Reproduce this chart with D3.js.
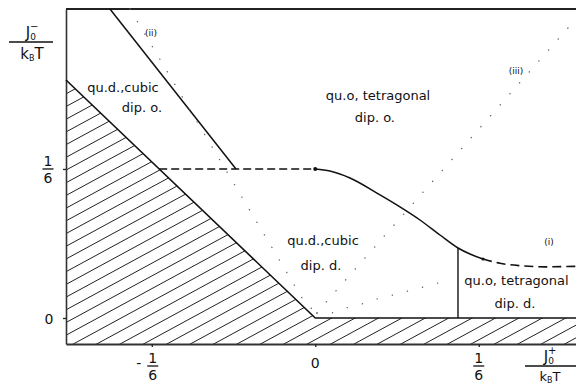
<!DOCTYPE html>
<html>
<head>
<meta charset="utf-8">
<script src="https://cdn.jsdelivr.net/npm/d3@7/dist/d3.min.js"></script>
<style>
  html, body { margin: 0; padding: 0; background: #fff; }
  svg { display: block; }
  text { font-family: "DejaVu Sans", sans-serif; fill: #111; }
</style>
</head>
<body>
<svg id="chart" width="576" height="387"></svg>
<script>
// Phase diagram in the (J0+/kBT, J0-/kBT) plane.

const xTicks = [-1/6, 0, 1/6];
const yTicks = [0, 1/6];

// Lower-left limit of the physical region (hatched below it)
const hatchEdge = [[-0.2541, 0.2662], [0, 0], [0.2658, 0]];

// Phase boundaries
const lineII = [[-0.2093, 0.3456], [-0.0808, 1 / 6]];
const firstOrderLine = [[-0.1591, 1 / 6], [0, 1 / 6]];
const transitionCurve = [
  [0, 1 / 6], [0.0150, 0.1644], [0.0354, 0.1566], [0.0660, 0.1376],
  [0.0863, 0.1242], [0.1067, 0.1096], [0.1271, 0.0928], [0.1455, 0.0783],
  [0.1577, 0.0716], [0.1710, 0.0660]
];
const dashedI = [[0.1710, 0.0660], [0.1883, 0.0612], [0.2087, 0.0585], [0.2342, 0.0572], [0.2658, 0.0578]];
const verticalBoundary = [[0.1455, 0], [0.1455, 0.0783]];

// Stability limits (dotted)
const dottedII = [[-0.1889, 0.3456], [-0.0105, 0.0168], [0.0017, 0.0056]];
const dottedIII = [[0.0017, 0.0056], [0.0120, 0.0190], [0.2658, 0.3345]];
const dottedI = [
  [0.0017, 0.0056], [0.0150, 0.0056], [0.0313, 0.0112], [0.0476, 0.0157],
  [0.0629, 0.0213], [0.0792, 0.0257], [0.0986, 0.0313], [0.1292, 0.0403]
];

// Region and curve labels
const regionLabels = [
  { t: "qu.d.,cubic", x: -0.1960, y: 0.2528 },
  { t: "dip. o.", x: -0.1767, y: 0.2304 },
  { t: "qu.o, tetragonal", x: 0.0640, y: 0.2438 },
  { t: "dip. o.", x: 0.0608, y: 0.2192 },
  { t: "qu.d.,cubic", x: 0.0079, y: 0.0817 },
  { t: "dip. d.", x: 0.0058, y: 0.0537 },
  { t: "qu.o, tetragonal", x: 0.2051, y: 0.0369 },
  { t: "dip. d.", x: 0.2036, y: 0.0112 }
];
const curveLabels = [
  { t: "(ii)", x: -0.1675, y: 0.3154 },
  { t: "(iii)", x: 0.2046, y: 0.2729 },
  { t: "(i)", x: 0.2382, y: 0.0817 }
];

const svg = d3.select("#chart");
const x = d3.scaleLinear().domain([-0.2541, 0.2658]).range([66, 576]);
const y = d3.scaleLinear().domain([-0.0291, 0.3456]).range([344, 9]);
const line = d3.line().x(d => x(d[0])).y(d => y(d[1]));

// Hatched region
const hatchPoly = hatchEdge.concat([[0.2658, -0.0291], [-0.2541, -0.0291]]);
svg.append("clipPath").attr("id", "hatchClip")
  .append("path").attr("d", line(hatchPoly) + "Z");
const slope = 0.543, step = 23.4;
const x0s = d3.range(-40, 30).map(k => 210 + k * step);
svg.append("g").attr("clip-path", "url(#hatchClip)")
  .selectAll("line").data(x0s).join("line")
  .attr("x1", d => d).attr("y1", y.range()[0] + 2)
  .attr("x2", d => d + 700).attr("y2", y.range()[0] + 2 - 700 * slope)
  .attr("stroke", "#222").attr("stroke-width", 1);

// Frame: top border
svg.append("line")
  .attr("x1", x.range()[0]).attr("x2", x.range()[1])
  .attr("y1", y.range()[1]).attr("y2", y.range()[1])
  .attr("stroke", "#222").attr("stroke-width", 2);

// Axes
const yAxis = svg.append("g").attr("transform", `translate(${x.range()[0]},0)`)
  .call(d3.axisLeft(y).tickValues(yTicks).tickSize(3).tickSizeOuter(0).tickFormat(""));
const xAxis = svg.append("g").attr("transform", `translate(0,${y.range()[0]})`)
  .call(d3.axisBottom(x).tickValues(xTicks).tickSize(3).tickSizeOuter(0).tickFormat(""));
yAxis.select(".domain").attr("stroke", "#333").attr("stroke-width", 1.6);
xAxis.select(".domain").attr("stroke", "#333").attr("stroke-width", 2);
svg.selectAll(".tick line").attr("stroke", "#222").attr("stroke-width", 1.3);

// Boundary lines
function drawLine(data, opts) {
  return svg.append("path").datum(data)
    .attr("d", opts.curve ? line.curve(opts.curve)(data) : line.curve(d3.curveLinear)(data))
    .attr("fill", "none")
    .attr("stroke", opts.color || "#111")
    .attr("stroke-width", opts.width || 1.5)
    .attr("stroke-dasharray", opts.dash || null)
    .attr("stroke-linecap", opts.cap || "butt");
}
drawLine(hatchEdge, { width: 1.6 });
drawLine(lineII, { width: 1.5 });
drawLine(firstOrderLine, { width: 1.6, dash: "8,4" });
drawLine(transitionCurve, { width: 1.5, curve: d3.curveMonotoneX });
drawLine(dashedI, { width: 1.6, dash: "9,5", curve: d3.curveMonotoneX });
drawLine(verticalBoundary, { width: 1.4 });

// Dotted stability limits
[dottedII, dottedIII].forEach(d => drawLine(d, { width: 1.4, color: "#666", dash: "0.1,14.5", cap: "round" }));
drawLine(dottedI, { width: 1.4, color: "#666", dash: "0.1,15.5", cap: "round", curve: d3.curveMonotoneX });

// Markers on the transition line
svg.append("circle").attr("cx", x(0)).attr("cy", y(1 / 6)).attr("r", 2).attr("fill", "#111");
svg.append("circle").attr("cx", x(dashedI[0][0])).attr("cy", y(dashedI[0][1])).attr("r", 1.5).attr("fill", "#111");

// Region labels
svg.append("g").selectAll("text").data(regionLabels).join("text")
  .attr("x", d => x(d.x)).attr("y", d => y(d.y))
  .attr("text-anchor", "middle").attr("font-size", 13)
  .text(d => d.t);
svg.append("g").selectAll("text").data(curveLabels).join("text")
  .attr("x", d => x(d.x)).attr("y", d => y(d.y))
  .attr("text-anchor", "middle").attr("font-size", 9).attr("fill", "#333")
  .text(d => d.t);

// Fraction tick labels
function fraction(g, cx, top, num, den, barW) {
  g.append("text").attr("x", cx).attr("y", top).attr("text-anchor", "middle")
    .attr("font-size", 14).text(num);
  g.append("line").attr("x1", cx - barW / 2).attr("x2", cx + barW / 2)
    .attr("y1", top + 3).attr("y2", top + 3).attr("stroke", "#111").attr("stroke-width", 1.3);
  g.append("text").attr("x", cx).attr("y", top + 17).attr("text-anchor", "middle")
    .attr("font-size", 14).text(den);
}
const labelG = svg.append("g");
yTicks.forEach(v => {
  const py = y(v);
  if (v === 0) {
    labelG.append("text").attr("x", 49).attr("y", py + 6).attr("text-anchor", "middle")
      .attr("font-size", 14).text("0");
  } else {
    fraction(labelG, 48, py - 3, "1", "6", 11);
  }
});
xTicks.forEach(v => {
  const px = x(v);
  const base = y.range()[0];
  if (v === 0) {
    labelG.append("text").attr("x", px).attr("y", base + 24).attr("text-anchor", "middle")
      .attr("font-size", 14).text("0");
  } else {
    fraction(labelG, px + (v < 0 ? 1 : 0), base + 19, "1", "6", 11);
    if (v < 0) {
      labelG.append("text").attr("x", px - 13).attr("y", base + 24).attr("text-anchor", "middle")
        .attr("font-size", 14).text("-");
    }
  }
});

// Axis titles as stacked fractions
function axisTitle(cx, barY, barX1, barX2, sign, denSize) {
  const g = svg.append("g");
  const num = g.append("text").attr("x", cx).attr("y", barY - 4).attr("text-anchor", "middle")
    .attr("font-size", 15);
  num.append("tspan").text("J");
  num.append("tspan").attr("font-size", 9).attr("dy", 2).text("0");
  num.append("tspan").attr("font-size", 10).attr("dx", -6).attr("dy", -10).text(sign);
  g.append("line").attr("x1", barX1).attr("x2", barX2).attr("y1", barY).attr("y2", barY)
    .attr("stroke", "#111").attr("stroke-width", 1.4);
  const den = g.append("text").attr("x", cx).attr("y", barY + denSize + 2).attr("text-anchor", "middle")
    .attr("font-size", denSize);
  den.append("tspan").text("k");
  den.append("tspan").attr("font-size", 8).attr("dy", 2).text("B");
  den.append("tspan").attr("dy", -2).text("T");
}
axisTitle(32, 42, 9, 53, "\u2212", 15);
axisTitle(550, 366, 525, 576, "+", 13);
</script>
</body>
</html>
